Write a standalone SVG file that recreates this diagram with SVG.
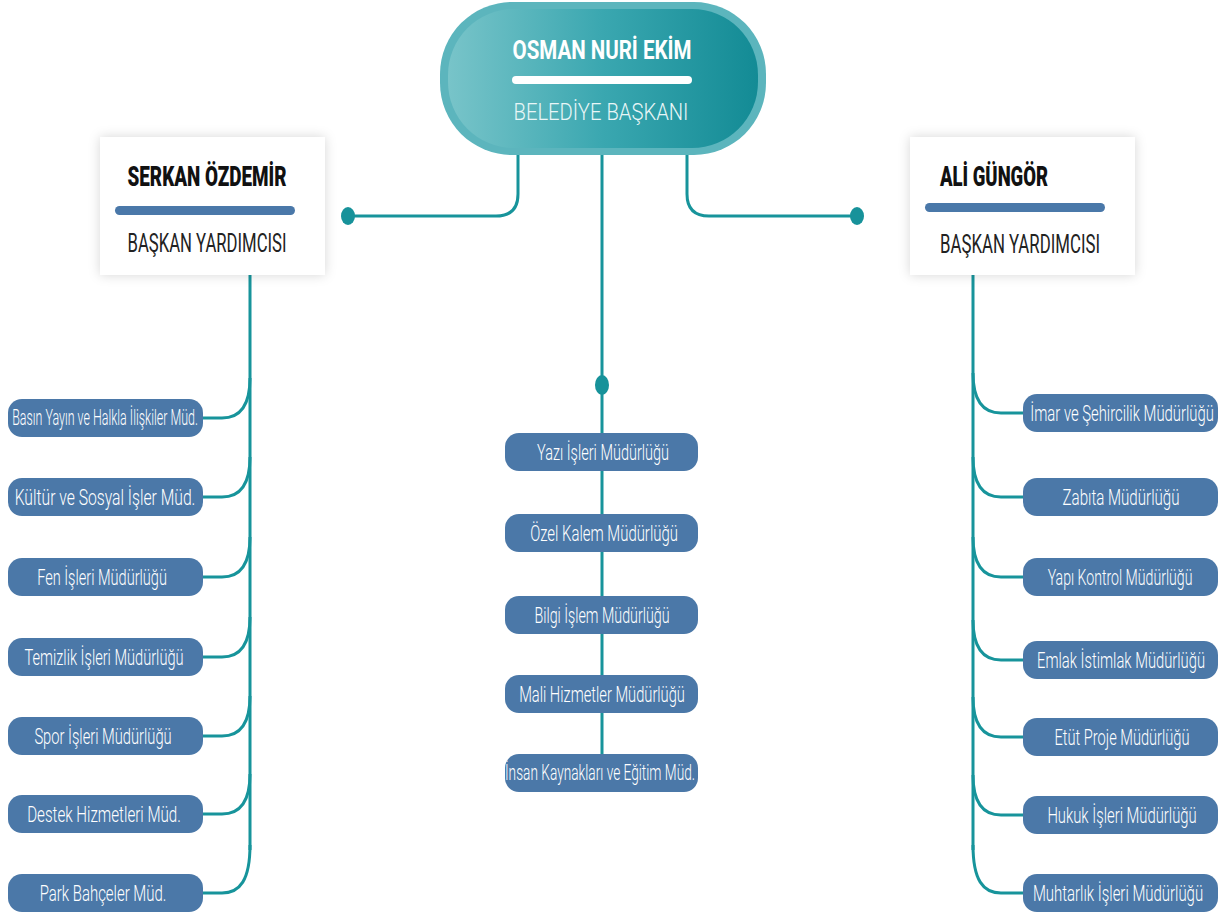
<svg xmlns="http://www.w3.org/2000/svg" width="1223" height="920" viewBox="0 0 1223 920">
<style>
.ln{fill:none;stroke:#17949b;stroke-width:3}
.dot{fill:#17929a}
.box{fill:#4b78a8}
.bt{font-family:Roboto,"Liberation Sans",sans-serif;font-weight:300;font-size:22px;fill:#ffffff;text-anchor:middle}
.nm{font-family:Roboto,"Liberation Sans",sans-serif;font-weight:900;font-size:27px;fill:#111111}
.tt{font-family:Roboto,"Liberation Sans",sans-serif;font-weight:400;font-size:25px;fill:#222222}
</style>
<defs>
<linearGradient id="pg" x1="0" y1="0" x2="1" y2="0">
<stop offset="0" stop-color="#78c4c9"/>
<stop offset="0.5" stop-color="#3aa7b0"/>
<stop offset="1" stop-color="#138b95"/>
</linearGradient>
<filter id="sh" x="-20%" y="-30%" width="140%" height="160%">
<feDropShadow dx="0" dy="0" stdDeviation="6" flood-color="#000" flood-opacity="0.16"/>
</filter>
</defs>
<rect width="1223" height="920" fill="#ffffff"/>
<g id="connectors">
<path class="ln" d="M518,155 L518,194 Q518,216 496,216 L348,216"/>
<path class="ln" d="M687,155 L687,194 Q687,216 709,216 L857,216"/>
<path class="ln" d="M602,155 L602,790"/>
<ellipse class="dot" cx="348" cy="216" rx="7" ry="9"/>
<ellipse class="dot" cx="857" cy="216" rx="7" ry="9"/>
<ellipse class="dot" cx="602" cy="385" rx="7" ry="10"/>
<path class="ln" d="M250,275 L250,850"/>
<path class="ln" d="M250,378 C250,405 240,418 222,418 L203,418"/>
<path class="ln" d="M250,457 C250,484 240,497 222,497 L203,497"/>
<path class="ln" d="M250,537 C250,564 240,577 222,577 L203,577"/>
<path class="ln" d="M250,617 C250,644 240,657 222,657 L203,657"/>
<path class="ln" d="M250,696 C250,723 240,736 222,736 L203,736"/>
<path class="ln" d="M250,774 C250,801 240,814 222,814 L203,814"/>
<path class="ln" d="M250,845 C250,880 240,893 222,893 L203,893"/>
<path class="ln" d="M973,275 L973,850"/>
<path class="ln" d="M973,373 C973,400 983,413 1001,413 L1023,413"/>
<path class="ln" d="M973,457 C973,484 983,497 1001,497 L1023,497"/>
<path class="ln" d="M973,537 C973,564 983,577 1001,577 L1023,577"/>
<path class="ln" d="M973,620 C973,647 983,660 1001,660 L1023,660"/>
<path class="ln" d="M973,697 C973,724 983,737 1001,737 L1023,737"/>
<path class="ln" d="M973,775 C973,802 983,815 1001,815 L1023,815"/>
<path class="ln" d="M973,845 C973,880 983,893 1001,893 L1023,893"/>
</g>
<g id="baskan">
<rect x="440" y="2" width="326" height="153" rx="72" fill="#5cb5bd"/>
<rect x="448" y="9" width="310" height="139" rx="66" fill="url(#pg)"/>
<text x="602" y="59" font-family="Roboto,'Liberation Sans',sans-serif" font-weight="bold" font-size="26" fill="#ffffff" text-anchor="middle" textLength="179" lengthAdjust="spacingAndGlyphs">OSMAN NURİ EKİM</text>
<rect x="512" y="76" width="180" height="8" rx="4" fill="#ffffff"/>
<text x="601" y="120" font-family="Roboto,'Liberation Sans',sans-serif" font-weight="300" font-size="24" fill="#e8f6f7" text-anchor="middle" textLength="175" lengthAdjust="spacingAndGlyphs">BELEDİYE BAŞKANI</text>
</g>
<g id="vp-left">
<rect x="100" y="137" width="225" height="138" fill="#ffffff" filter="url(#sh)"/>
<text class="nm" x="207" y="186" text-anchor="middle" textLength="159" lengthAdjust="spacingAndGlyphs">SERKAN ÖZDEMİR</text>
<rect x="115" y="206" width="180" height="9" rx="4.5" fill="#4a78a9"/>
<text class="tt" x="207" y="252" text-anchor="middle" textLength="159" lengthAdjust="spacingAndGlyphs">BAŞKAN YARDIMCISI</text>
</g>
<g id="vp-right">
<rect x="910" y="137" width="225" height="138" fill="#ffffff" filter="url(#sh)"/>
<text class="nm" x="994" y="186" text-anchor="middle" textLength="108" lengthAdjust="spacingAndGlyphs">ALİ GÜNGÖR</text>
<rect x="925" y="203" width="180" height="9" rx="4.5" fill="#4a78a9"/>
<text class="tt" x="1020" y="253" text-anchor="middle" textLength="160" lengthAdjust="spacingAndGlyphs">BAŞKAN YARDIMCISI</text>
</g>
<g id="l1"><rect class="box" x="8" y="399" width="195" height="38" rx="14"/><text class="bt" transform="translate(105,425) scale(0.72,1)" font-size="20" textLength="258" lengthAdjust="spacingAndGlyphs">Basın Yayın ve Halkla İlişkiler Müd.</text></g>
<g id="l2"><rect class="box" x="8" y="478" width="195" height="38" rx="14"/><text class="bt" transform="translate(105,505) scale(0.75,1)" textLength="241" lengthAdjust="spacingAndGlyphs">Kültür ve Sosyal İşler Müd.</text></g>
<g id="l3"><rect class="box" x="8" y="558" width="195" height="38" rx="14"/><text class="bt" transform="translate(102,585) scale(0.75,1)" textLength="173" lengthAdjust="spacingAndGlyphs">Fen İşleri Müdürlüğü</text></g>
<g id="l4"><rect class="box" x="8" y="638" width="195" height="38" rx="14"/><text class="bt" transform="translate(104,665) scale(0.75,1)" textLength="212" lengthAdjust="spacingAndGlyphs">Temizlik İşleri Müdürlüğü</text></g>
<g id="l5"><rect class="box" x="8" y="717" width="195" height="38" rx="14"/><text class="bt" transform="translate(103,744) scale(0.75,1)" textLength="183" lengthAdjust="spacingAndGlyphs">Spor İşleri Müdürlüğü</text></g>
<g id="l6"><rect class="box" x="8" y="795" width="195" height="38" rx="14"/><text class="bt" transform="translate(104,822) scale(0.75,1)" textLength="205" lengthAdjust="spacingAndGlyphs">Destek Hizmetleri Müd.</text></g>
<g id="l7"><rect class="box" x="8" y="874" width="195" height="38" rx="14"/><text class="bt" transform="translate(103,901) scale(0.75,1)" textLength="169" lengthAdjust="spacingAndGlyphs">Park Bahçeler Müd.</text></g>
<g id="c1"><rect class="box" x="505" y="433" width="193" height="38" rx="14"/><text class="bt" transform="translate(603,460) scale(0.75,1)" textLength="176" lengthAdjust="spacingAndGlyphs">Yazı İşleri Müdürlüğü</text></g>
<g id="c2"><rect class="box" x="505" y="514" width="193" height="38" rx="14"/><text class="bt" transform="translate(604,541) scale(0.75,1)" textLength="197" lengthAdjust="spacingAndGlyphs">Özel Kalem Müdürlüğü</text></g>
<g id="c3"><rect class="box" x="505" y="596" width="193" height="38" rx="14"/><text class="bt" transform="translate(602,623) scale(0.75,1)" textLength="180" lengthAdjust="spacingAndGlyphs">Bilgi İşlem Müdürlüğü</text></g>
<g id="c4"><rect class="box" x="505" y="675" width="193" height="38" rx="14"/><text class="bt" transform="translate(602,702) scale(0.75,1)" textLength="221" lengthAdjust="spacingAndGlyphs">Mali Hizmetler Müdürlüğü</text></g>
<g id="c5"><rect class="box" x="505" y="754" width="193" height="38" rx="14"/><text class="bt" transform="translate(600,780) scale(0.72,1)" font-size="20" textLength="264" lengthAdjust="spacingAndGlyphs">İnsan Kaynakları ve Eğitim Müd.</text></g>
<g id="r1"><rect class="box" x="1023" y="394" width="195" height="38" rx="14"/><text class="bt" transform="translate(1122,421) scale(0.68,1)" textLength="270" lengthAdjust="spacingAndGlyphs">İmar ve Şehircilik Müdürlüğü</text></g>
<g id="r2"><rect class="box" x="1023" y="478" width="195" height="38" rx="14"/><text class="bt" transform="translate(1121,505) scale(0.75,1)" textLength="156" lengthAdjust="spacingAndGlyphs">Zabıta Müdürlüğü</text></g>
<g id="r3"><rect class="box" x="1023" y="558" width="195" height="38" rx="14"/><text class="bt" transform="translate(1120,585) scale(0.75,1)" textLength="193" lengthAdjust="spacingAndGlyphs">Yapı Kontrol Müdürlüğü</text></g>
<g id="r4"><rect class="box" x="1023" y="641" width="195" height="38" rx="14"/><text class="bt" transform="translate(1121,668) scale(0.75,1)" textLength="224" lengthAdjust="spacingAndGlyphs">Emlak İstimlak Müdürlüğü</text></g>
<g id="r5"><rect class="box" x="1023" y="718" width="195" height="38" rx="14"/><text class="bt" transform="translate(1122,745) scale(0.75,1)" textLength="180" lengthAdjust="spacingAndGlyphs">Etüt Proje Müdürlüğü</text></g>
<g id="r6"><rect class="box" x="1023" y="796" width="195" height="38" rx="14"/><text class="bt" transform="translate(1122,823) scale(0.75,1)" textLength="199" lengthAdjust="spacingAndGlyphs">Hukuk İşleri Müdürlüğü</text></g>
<g id="r7"><rect class="box" x="1023" y="874" width="195" height="38" rx="14"/><text class="bt" transform="translate(1118,901) scale(0.75,1)" textLength="227" lengthAdjust="spacingAndGlyphs">Muhtarlık İşleri Müdürlüğü</text></g>
</svg>
